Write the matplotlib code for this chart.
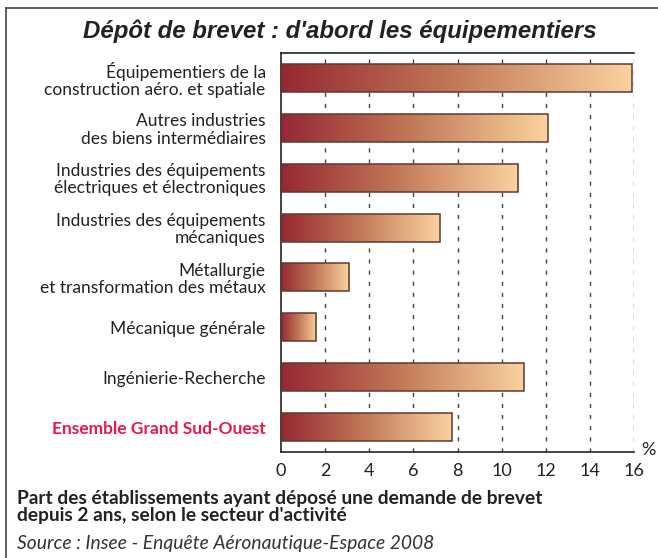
import numpy as np
import matplotlib.pyplot as plt
from matplotlib.colors import LinearSegmentedColormap
from matplotlib.patches import Rectangle
from matplotlib.lines import Line2D

# ---------------------------------------------------------------- data
sectors = [
    "Équipementiers de la\nconstruction aéro. et spatiale",
    "Autres industries\ndes biens intermédiaires",
    "Industries des équipements\nélectriques et électroniques",
    "Industries des équipements\nmécaniques",
    "Métallurgie\net transformation des métaux",
    "Mécanique générale",
    "Ingénierie-Recherche",
    "Ensemble Grand Sud-Ouest",
]
shares = [15.9, 12.1, 10.75, 7.2, 3.1, 1.6, 11.0, 7.75]
xticks = [0, 2, 4, 6, 8, 10, 12, 14, 16]

TITLE = "Dépôt de brevet : d'abord les équipementiers"
SUBTITLE = ("Part des établissements ayant déposé une demande de brevet\n"
            "depuis 2 ans, selon le secteur d'activité")
SOURCE = "Source : Insee - Enquête Aéronautique-Espace 2008"

# ---------------------------------------------------------------- style
C_DARK, C_LIGHT = '#962832', '#fad29f'
C_EDGE = '#5b3b30'
C_RED = '#e8194a'
C_TEXT = '#222222'
FONT = 'Lato'

cmap = LinearSegmentedColormap.from_list('bar', [C_DARK, '#c27a58', C_LIGHT])
grad = np.linspace(0, 1, 256).reshape(1, -1)

fig = plt.figure(figsize=(6.58, 5.58), dpi=100)
ax = fig.add_axes([281 / 658, 1 - 452 / 558, (634 - 281) / 658, (452 - 53) / 558])

n = len(sectors)
ax.set_xlim(0, 16)
ax.set_ylim(n - 0.5, -0.5)
h = 0.56
for i, v in enumerate(shares):
    ax.imshow(grad, cmap=cmap, aspect='auto', zorder=2,
              extent=(0, v, i + h / 2, i - h / 2))
    ax.add_patch(Rectangle((0, i - h / 2), v, h, fill=False,
                           edgecolor=C_EDGE, lw=1.1, zorder=3))

for x in xticks[1:]:
    ax.axvline(x, color='#444444', lw=1.0, ls=(0, (3, 5)), zorder=1)

ax.set_yticks(range(n))
ax.set_yticklabels(sectors, fontsize=12.5, family=FONT, color=C_TEXT,
                   linespacing=1.1)
ax.get_yticklabels()[-1].set_color(C_RED)
ax.get_yticklabels()[-1].set_fontweight('bold')
ax.set_xticks(xticks)
ax.set_xticklabels([str(t) for t in xticks], fontsize=13, family=FONT,
                   color=C_TEXT)
ax.tick_params(length=0, pad=8)
ax.tick_params(axis='y', pad=11)

for s in ['left', 'bottom', 'top']:
    ax.spines[s].set_color('#222222')
    ax.spines[s].set_linewidth(1.2)
ax.spines['right'].set_visible(False)

ax.text(16.35, n - 0.55, '%', fontsize=13, family=FONT, color=C_TEXT,
        ha='left', va='center')

# frame (left + top)
fig.add_artist(Line2D([6 / 658, 6 / 658], [0, 1 - 8 / 558],
                      color='#444444', lw=1.2, transform=fig.transFigure))
fig.add_artist(Line2D([6 / 658, 1], [1 - 8 / 558, 1 - 8 / 558],
                      color='#444444', lw=1.2, transform=fig.transFigure))

fig.text(0.516, 1 - 31 / 558, TITLE, ha='center', va='center', fontsize=17.3,
         family='Liberation Sans', fontweight='bold', style='italic',
         color=C_TEXT)
fig.text(17 / 658, 1 - 507 / 558, SUBTITLE, ha='left', va='center',
         fontsize=13.8, family=FONT, fontweight='bold', color=C_TEXT,
         linespacing=1.05)
fig.text(17 / 658, 1 - 543 / 558, SOURCE, ha='left', va='center',
         fontsize=13.9, family=FONT, style='italic', color='#333333')

fig.savefig('out.png', dpi=100)
